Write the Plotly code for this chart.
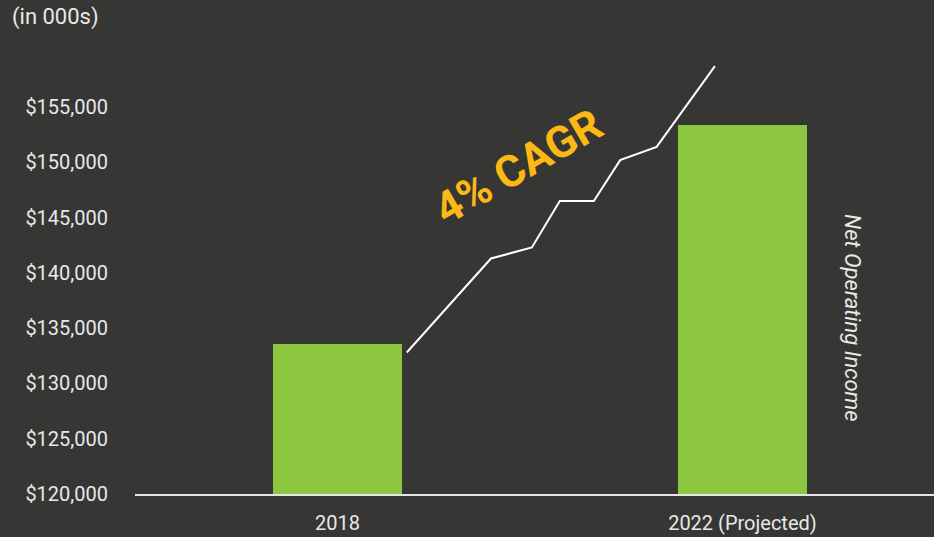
import plotly.graph_objects as go

BG = "#363634"
GREEN = "#8dc63f"
ORANGE = "#fdb913"
TEXT = "#e8e8e8"
FONT = "Roboto"

categories = ["2018", "2022 (Projected)"]
cat_pos = [0, 1]
noi_values = [133600, 153400]

# jagged growth line drawn between the two bars
trend_x = [0.171, 0.379, 0.480, 0.549, 0.633, 0.698, 0.788, 0.932]
trend_y = [132800, 141300, 142300, 146500, 146500, 150200, 151400, 158700]

y_ticks = [120000, 125000, 130000, 135000, 140000, 145000, 150000, 155000]
y_labels = [f"${v:,}" for v in y_ticks]

# plot area in pixels: x 135..934, y 0..494
def px_x(p):
    return (p - 135) / 799


def px_y(p):
    return (494 - p) / 494


fig = go.Figure()

fig.add_trace(
    go.Bar(
        x=cat_pos,
        y=noi_values,
        width=0.32,
        marker=dict(color=GREEN, line=dict(width=0)),
        hovertemplate="%{y:$,.0f}<extra></extra>",
    )
)

fig.add_trace(
    go.Scatter(
        x=trend_x,
        y=trend_y,
        mode="lines",
        line=dict(color="#ffffff", width=2),
        cliponaxis=False,
        hoverinfo="skip",
    )
)

fig.add_annotation(
    text="<b>4% CAGR</b>",
    x=px_x(518), y=px_y(167), xref="paper", yref="paper",
    xanchor="center", yanchor="middle",
    showarrow=False, textangle=-30,
    font=dict(family=FONT, size=44, color=ORANGE),
)
fig.add_annotation(
    text="<i>Net Operating Income</i>",
    x=px_x(853), y=px_y(318), xref="paper", yref="paper",
    xanchor="center", yanchor="middle",
    showarrow=False, textangle=90,
    font=dict(family=FONT, size=22, color=TEXT),
)
fig.add_annotation(
    text="(in 000s)",
    x=px_x(10), y=px_y(17), xref="paper", yref="paper",
    xanchor="left", yanchor="middle",
    showarrow=False,
    font=dict(family=FONT, size=22, color=TEXT),
)

fig.update_layout(
    width=934,
    height=537,
    paper_bgcolor=BG,
    plot_bgcolor=BG,
    showlegend=False,
    bargap=0,
    margin=dict(l=135, r=0, t=0, b=43),
    font=dict(family=FONT, color=TEXT),
    xaxis=dict(
        range=[-0.5, 1.473],
        tickvals=cat_pos,
        ticktext=categories,
        showgrid=False,
        zeroline=False,
        showline=True,
        linecolor="#e6e6e6",
        linewidth=2,
        ticks="",
        tickfont=dict(family=FONT, size=20, color=TEXT),
        ticklabelstandoff=10,
    ),
    yaxis=dict(
        range=[120000, 164680],
        tickvals=y_ticks,
        ticktext=y_labels,
        showgrid=False,
        zeroline=False,
        showline=False,
        ticks="",
        tickfont=dict(family=FONT, size=20, color=TEXT),
        ticklabelstandoff=26,
    ),
)

fig.write_html(
    "out.html",
    config={"displayModeBar": False},
    post_script="document.body.style.margin='0';",
)
